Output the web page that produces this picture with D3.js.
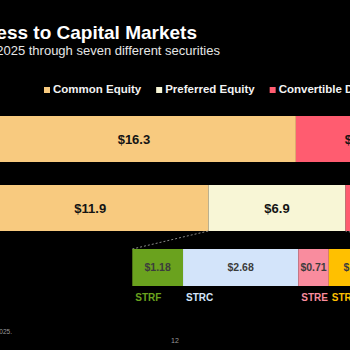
<!DOCTYPE html>
<html>
<head>
<meta charset="utf-8">
<script src="https://cdn.jsdelivr.net/npm/d3@7"></script>
<style>
  body { margin: 0; background: #000; overflow: hidden; }
  svg { display: block; font-family: "Liberation Sans", Arial, sans-serif; }
</style>
</head>
<body>
<div class="canvas"></div>
<script>
// data
var years = ["2024", "2025"];
var seriesNames = ["Common Equity", "Preferred Equity", "Convertible Debt"];
var seriesColors = ["#F8CA7F", "#F8F6D6", "#FF5C70"];
var commonEquity = [16.3, 11.9];
var preferredEquity = [0, 6.9];
var convertibleDebt = [6.2, 2.0];

var prefNames = ["STRF", "STRC", "STRE", "STRK", "STRD"];
var prefValues = [1.18, 2.68, 0.71, 1.30, 1.03];
var prefColors = ["#6AA21E", "#D3E4FA", "#F98C9E", "#FFC000", "#9BC2E6"];
var prefLabelColors = ["#6AA21E", "#D3E4FA", "#F98C9E", "#FFC000", "#9BC2E6"];

var width = 350, height = 350;

var svg = d3.select(".canvas")
  .append("svg")
    .attr("width", width)
    .attr("height", height)
    .style("background-color", "#000");

// title + subtitle (slide is cropped on the left)
svg.append("text")
  .attr("x", 197).attr("y", 39)
  .attr("text-anchor", "end")
  .attr("fill", "#fff")
  .style("font-size", "19px")
  .style("font-weight", "bold")
  .text("Access to Capital Markets");

svg.append("text")
  .attr("x", 220).attr("y", 55)
  .attr("text-anchor", "end")
  .attr("fill", "#e6e6e6")
  .style("font-size", "13px")
  .text("in 2025 through seven different securities");

// legend
var lx = 44;
seriesNames.forEach(function(name, i) {
  var g = svg.append("g").attr("transform", "translate(" + lx + ",0)");
  g.append("rect")
    .attr("x", 0).attr("y", 87)
    .attr("width", 6).attr("height", 6)
    .attr("fill", seriesColors[i]);
  var t = g.append("text")
    .attr("x", 9).attr("y", 93)
    .attr("fill", "#f2f2f2")
    .style("font-size", "11.5px")
    .style("font-weight", "bold")
    .text(name);
  lx += 9 + t.node().getComputedTextLength() + 15;
});

// main stacked bars
var rows = years.map(function(y, i) {
  return {year: y, vals: [commonEquity[i], preferredEquity[i], convertibleDebt[i]]};
});

var x = d3.scaleLinear()
  .domain([0, 20])
  .range([-28, 369.4]);

var y = d3.scaleBand()
  .domain(years)
  .range([116, 231])
  .paddingInner(1 / 3);

rows.forEach(function(r) {
  var start = 0;
  r.vals.forEach(function(v, j) {
    if (v > 0) {
      svg.append("rect")
        .attr("x", x(start))
        .attr("y", y(r.year))
        .attr("width", x(start + v) - x(start))
        .attr("height", y.bandwidth())
        .attr("fill", seriesColors[j]);
      svg.append("text")
        .attr("x", (x(start) + x(start + v)) / 2)
        .attr("y", y(r.year) + y.bandwidth() / 2)
        .attr("dy", "0.36em")
        .attr("text-anchor", "middle")
        .attr("fill", "#141414")
        .style("font-size", "13px")
        .style("font-weight", "bold")
        .text("$" + v.toFixed(1));
    }
    start += v;
  });
});

// preferred equity breakdown
var px = d3.scaleLinear()
  .domain([0, d3.sum(prefValues)])
  .range([132.3, 132.3 + d3.sum(prefValues) * 43]);
var py0 = 249, pyH = 37;

// connector lines from 2025 preferred segment
var prefStart = commonEquity[1], prefEnd = commonEquity[1] + preferredEquity[1];
var yb = y("2025") + y.bandwidth();
svg.append("line")
  .attr("x1", px(0)).attr("y1", py0)
  .attr("x2", x(prefStart)).attr("y2", yb)
  .attr("stroke", "#8a8a8a").attr("stroke-dasharray", "2,2").attr("stroke-width", 1);
svg.append("line")
  .attr("x1", px(d3.sum(prefValues))).attr("y1", py0)
  .attr("x2", x(prefEnd)).attr("y2", yb)
  .attr("stroke", "#8a8a8a").attr("stroke-dasharray", "2,2").attr("stroke-width", 1);

var acc = 0;
prefValues.forEach(function(v, i) {
  svg.append("rect")
    .attr("x", px(acc)).attr("y", py0)
    .attr("width", px(acc + v) - px(acc))
    .attr("height", pyH)
    .attr("fill", prefColors[i]);
  svg.append("text")
    .attr("x", (px(acc) + px(acc + v)) / 2)
    .attr("y", py0 + pyH / 2)
    .attr("dy", "0.36em")
    .attr("text-anchor", "middle")
    .attr("fill", "#3c3c3c")
    .style("font-size", "10.5px")
    .style("font-weight", "bold")
    .text("$" + v.toFixed(2));
  svg.append("text")
    .attr("x", px(acc) + 3)
    .attr("y", 300.5)
    .attr("fill", prefLabelColors[i])
    .style("font-size", "10px")
    .style("font-weight", "bold")
    .text(prefNames[i]);
  acc += v;
});

// footnote + page number
svg.append("text")
  .attr("x", 12).attr("y", 334)
  .attr("text-anchor", "end")
  .attr("fill", "#9a9a9a")
  .style("font-size", "6.5px")
  .text("Note: Capital raised as of July 2025.");

svg.append("text")
  .attr("x", 175).attr("y", 343)
  .attr("text-anchor", "middle")
  .attr("fill", "#9a9a9a")
  .style("font-size", "7px")
  .text("12");
</script>
</body>
</html>
